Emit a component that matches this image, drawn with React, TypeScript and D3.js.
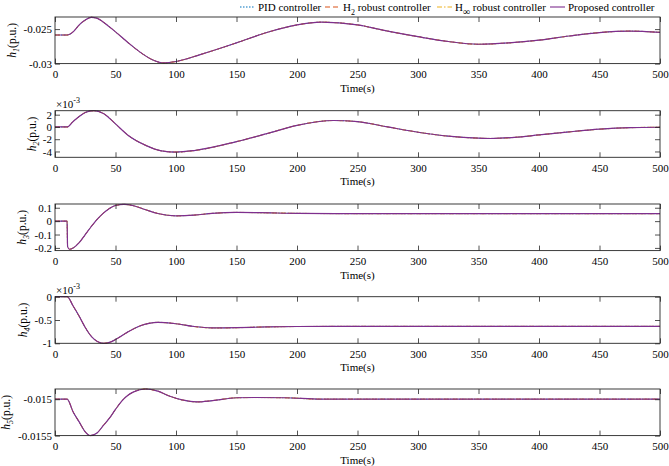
import { useRef, useEffect } from 'react'
import * as d3 from 'd3'

// time axis
const timeTicks = [0, 50, 100, 150, 200, 250, 300, 350, 400, 450, 500]

// h1 (p.u.)
const h1Data: [number, number][] = [
  [0, -0.02586], [10, -0.02586], [15, -0.0254], [20, -0.0244], [25, -0.0237], [30, -0.0233],
  [35, -0.02345], [40, -0.024], [50, -0.0254], [60, -0.0269], [70, -0.0283], [80, -0.0294],
  [90, -0.0299], [100, -0.0297], [120, -0.0287], [150, -0.027], [175, -0.0255], [200, -0.0244],
  [220, -0.024], [250, -0.0244], [275, -0.0253], [300, -0.0261], [325, -0.0268], [350, -0.0272],
  [375, -0.027], [400, -0.0266], [425, -0.026], [450, -0.0255], [475, -0.0253], [500, -0.02548],
]
const h1Ticks = [-0.03, -0.025]

// h2 (x1e-3 p.u.)
const h2Data: [number, number][] = [
  [0, 0], [10, 0], [15, 0.9], [20, 1.7], [25, 2.35], [32, 2.65], [40, 2.2], [50, 0.5],
  [60, -1.3], [75, -3.0], [88, -3.9], [100, -4.1], [115, -3.85], [150, -2.4], [175, -1.1],
  [200, 0.25], [230, 1.05], [250, 0.86], [275, 0.0], [300, -0.86], [325, -1.5], [350, -1.83],
  [360, -1.88], [380, -1.7], [400, -1.3], [425, -0.8], [450, -0.37], [475, -0.12], [500, -0.05],
]
const h2Ticks = [-4, -2, 0, 2]

// h3 (p.u.)
const h3Data: [number, number][] = [
  [0, 0], [10, 0], [10.4, -0.19], [12, -0.21], [15, -0.2], [20, -0.16], [25, -0.1], [30, -0.04],
  [35, 0.015], [40, 0.06], [45, 0.095], [50, 0.117], [57, 0.125], [65, 0.115], [75, 0.085],
  [85, 0.057], [100, 0.04], [115, 0.045], [130, 0.058], [150, 0.065], [170, 0.063], [200, 0.058],
  [250, 0.056], [300, 0.056], [400, 0.056], [500, 0.056],
]
const h3Ticks = [-0.2, -0.1, 0, 0.1]

// h4 (x1e-3 p.u.)
const h4Data: [number, number][] = [
  [0, 0], [10, 0], [15, -0.2], [20, -0.42], [25, -0.66], [30, -0.85], [35, -0.96], [40, -1.0],
  [45, -0.98], [50, -0.92], [60, -0.76], [70, -0.63], [85, -0.55], [100, -0.58], [115, -0.64],
  [130, -0.67], [150, -0.665], [175, -0.648], [200, -0.64], [250, -0.637], [350, -0.637], [500, -0.637],
]
const h4Ticks = [-1, -0.5, 0]

// h5 (p.u.)
const h5Data: [number, number][] = [
  [0, -0.015], [10, -0.015], [15, -0.015175], [20, -0.015312], [25, -0.01545], [29, -0.0155],
  [35, -0.01546], [40, -0.01536], [45, -0.01526], [50, -0.01514], [55, -0.01503], [60, -0.01495],
  [65, -0.0149], [75, -0.01486], [85, -0.01489], [95, -0.01496], [105, -0.01501], [117, -0.015037],
  [130, -0.01502], [150, -0.01498], [165, -0.014977], [190, -0.01498], [220, -0.015], [500, -0.015],
]
const h5Ticks = [-0.0155, -0.015]

const seriesNames = ['PID controller', 'H2 robust controller', 'Hinf robust controller', 'Proposed controller']
const seriesColors = ['#0072BD', '#D95319', '#EDB120', '#7E2F8E']
const seriesDash = ['1.5,1.5', '5,3', '5,2,1.5,2', null]

const FONT = "'Liberation Serif', 'Times New Roman', serif"
const AXIS = '#262626'

const panels = [
  { idx: 1, data: h1Data, domain: [-0.03, -0.02325], ticks: h1Ticks, top: 17, labelX: 16, exp: false },
  { idx: 2, data: h2Data, domain: [-4.95, 2.65], ticks: h2Ticks, top: 110.7, labelX: 36, exp: true },
  { idx: 3, data: h3Data, domain: [-0.22, 0.128], ticks: h3Ticks, top: 204, labelX: 26, exp: false },
  { idx: 4, data: h4Data, domain: [-1, 0], ticks: h4Ticks, top: 296.7, labelX: 27, exp: true },
  { idx: 5, data: h5Data, domain: [-0.0155, -0.01486], ticks: h5Ticks, top: 389, labelX: 10, exp: false },
]

const left = 55
const right = 660
const panelHeight = 46.6

function drawPanel(svg: any, p: any) {
  const x = d3.scaleLinear().domain([0, 500]).range([left, right])
  const y = d3.scaleLinear().domain(p.domain).range([p.top + panelHeight, p.top])
  const bottom = p.top + panelHeight
  const g = svg.append('g')

  g.append('rect')
    .attr('x', left).attr('y', p.top)
    .attr('width', right - left).attr('height', panelHeight)
    .attr('fill', '#fff')

  const clipId = 'clip' + p.idx
  g.append('clipPath').attr('id', clipId)
    .append('rect').attr('x', left).attr('y', p.top - 1)
    .attr('width', right - left).attr('height', panelHeight + 2)

  const line = d3.line<[number, number]>()
    .x((d) => x(d[0]))
    .y((d) => y(d[1]))
    .curve(d3.curveMonotoneX)

  // all four controllers give practically the same response, the proposed one lies on top
  seriesNames.forEach((name, i) => {
    g.append('path')
      .attr('clip-path', `url(#${clipId})`)
      .attr('d', line(p.data))
      .attr('fill', 'none')
      .attr('stroke', seriesColors[i])
      .attr('stroke-width', i === 3 ? 1.2 : 0.9)
      .attr('stroke-dasharray', seriesDash[i])
  })

  const styleAxis = (a: any) => {
    a.select('.domain').remove()
    a.selectAll('line').attr('stroke', AXIS).attr('stroke-width', 0.8)
    a.selectAll('text').attr('fill', '#000').attr('font-family', FONT).attr('font-size', 11)
    a.attr('font-family', FONT)
  }

  g.append('g').attr('transform', `translate(0,${bottom})`)
    .call(d3.axisBottom(x).tickValues(timeTicks).tickSize(-5).tickPadding(7))
    .call(styleAxis)
  g.append('g').attr('transform', `translate(0,${p.top})`)
    .call(d3.axisTop(x).tickValues(timeTicks).tickSize(-5).tickFormat(() => ''))
    .call(styleAxis)
  g.append('g').attr('transform', `translate(${left},0)`)
    .call(d3.axisLeft(y).tickValues(p.ticks).tickSize(-5).tickPadding(3).tickFormat((d: number) => String(d)))
    .call(styleAxis)
  g.append('g').attr('transform', `translate(${right},0)`)
    .call(d3.axisRight(y).tickValues(p.ticks).tickSize(-5).tickFormat(() => ''))
    .call(styleAxis)

  g.append('rect')
    .attr('x', left).attr('y', p.top)
    .attr('width', right - left).attr('height', panelHeight)
    .attr('fill', 'none').attr('stroke', AXIS).attr('stroke-width', 0.9)

  g.append('text')
    .attr('x', (left + right) / 2).attr('y', bottom + 28)
    .attr('text-anchor', 'middle')
    .attr('font-family', FONT).attr('font-size', 11)
    .text('Time(s)')

  const midY = p.top + panelHeight / 2
  const lab = g.append('text')
    .attr('transform', `translate(${p.labelX},${midY}) rotate(-90)`)
    .attr('text-anchor', 'middle')
    .attr('font-family', FONT).attr('font-size', 11.5)
  lab.append('tspan').attr('font-style', 'italic').text('h')
  lab.append('tspan').attr('font-style', 'italic').attr('font-size', 8).attr('dy', 3).text(String(p.idx))
  lab.append('tspan').attr('dy', -3).text('(p.u.)')

  if (p.exp) {
    const e = g.append('text')
      .attr('x', 56).attr('y', p.top - 3)
      .attr('font-family', FONT).attr('font-size', 11)
    e.append('tspan').text('\u00d710')
    e.append('tspan').attr('font-size', 8).attr('dy', -5).text('-3')
  }
}

function drawLegend(svg: any) {
  const items = [
    { x: 240, label: ['PID controller'] },
    { x: 325, label: ['H', '2', ' robust controller'] },
    { x: 437, label: ['H', '\u221e', ' robust controller'] },
    { x: 550, label: ['Proposed controller'] },
  ]
  const ly = 7
  items.forEach((it, i) => {
    svg.append('line')
      .attr('x1', it.x).attr('x2', it.x + 15)
      .attr('y1', ly).attr('y2', ly)
      .attr('stroke', seriesColors[i]).attr('stroke-width', 1.1)
      .attr('stroke-dasharray', seriesDash[i])
    const t = svg.append('text')
      .attr('x', it.x + 18).attr('y', ly + 4)
      .attr('font-family', FONT).attr('font-size', 11)
    if (it.label.length === 1) {
      t.text(it.label[0])
    } else {
      t.append('tspan').text(it.label[0])
      t.append('tspan').attr('font-size', it.label[1] === '2' ? 8 : 10).attr('dy', 4).text(it.label[1])
      t.append('tspan').attr('dy', -4).text(it.label[2])
    }
  })
}

export default function App() {
  const ref = useRef<SVGSVGElement>(null)

  useEffect(() => {
    const svg = d3.select(ref.current)
    svg.selectAll('*').remove()
    svg.append('rect').attr('width', 669).attr('height', 466).attr('fill', '#fff')
    panels.forEach((p) => drawPanel(svg, p))
    drawLegend(svg)
  }, [])

  return (
    <svg
      ref={ref}
      width={669}
      height={466}
      style={{ position: 'fixed', left: 0, top: 0, display: 'block' }}
    />
  )
}
